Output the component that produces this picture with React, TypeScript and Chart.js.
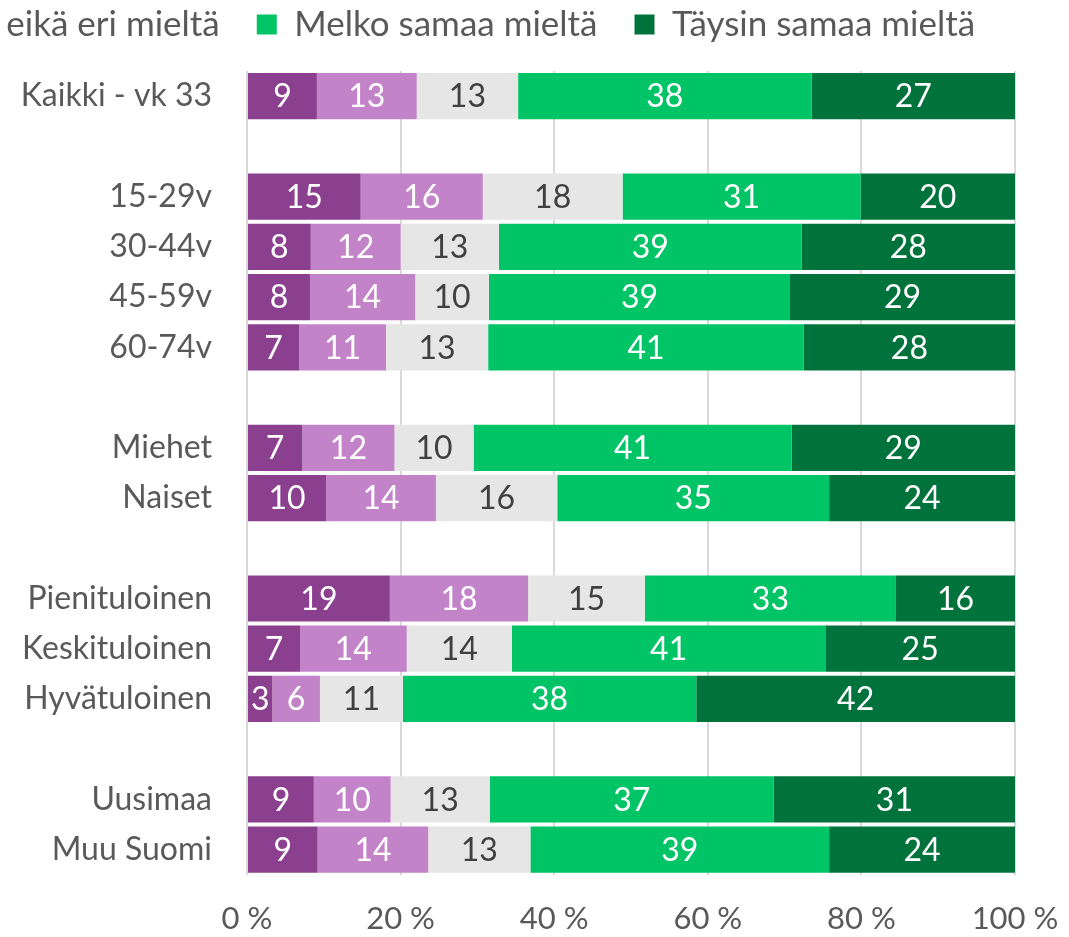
import { useEffect, useRef } from 'react';
import { Chart, registerables } from 'chart.js';

Chart.register(...registerables);

const categories = [
  'Kaikki - vk 33', '',
  '15-29v', '30-44v', '45-59v', '60-74v', '',
  'Miehet', 'Naiset', '',
  'Pienituloinen', 'Keskituloinen', 'Hyvätuloinen', '',
  'Uusimaa', 'Muu Suomi',
];

const seriesNames = [
  'Täysin eri mieltä',
  'Melko eri mieltä',
  'Ei samaa eikä eri mieltä',
  'Melko samaa mieltä',
  'Täysin samaa mieltä',
];

const taysinEri = [9.1, null, 14.8, 8.3, 8.2, 6.8, null, 7.2, 10.3, null, 18.6, 6.9, 3.3, null, 8.7, 9.2];
const melkoEri = [13.0, null, 15.9, 11.7, 13.7, 11.3, null, 12.0, 14.3, null, 18.0, 13.9, 6.2, null, 10.0, 14.4];
const eiSamaaEikaEri = [13.2, null, 18.2, 12.8, 9.6, 13.3, null, 10.3, 15.8, null, 15.2, 13.7, 10.8, null, 12.9, 13.3];
const melkoSamaa = [38.2, null, 31.0, 39.4, 39.2, 41.1, null, 41.4, 35.4, null, 32.7, 40.8, 38.2, null, 37.0, 38.9];
const taysinSamaa = [26.5, null, 20.1, 27.8, 29.3, 27.5, null, 29.1, 24.2, null, 15.5, 24.7, 41.5, null, 31.4, 24.2];

const xTicks = [0, 20, 40, 60, 80, 100];

const colors = ['#8B3F8F', '#C383C8', '#E6E6E6', '#00C466', '#00733C'];
const labelColors = ['#FFFFFF', '#FFFFFF', '#404040', '#FFFFFF', '#FFFFFF'];

const FONT = 'Lato';
const OFFSET_L = 856;
const OFFSET_T = 30;
const W = 1069 + OFFSET_L;
const H = 994;

export default function App() {
  const ref = useRef<HTMLCanvasElement>(null);

  useEffect(() => {
    if (!ref.current) return;
    const segLabels = {
      id: 'segLabels',
      afterDatasetsDraw(chart: any) {
        const ctx = chart.ctx;
        ctx.save();
        ctx.font = `32px ${FONT}`;
        ctx.textAlign = 'center';
        ctx.textBaseline = 'middle';
        chart.data.datasets.forEach((ds: any, di: number) => {
          const meta = chart.getDatasetMeta(di);
          meta.data.forEach((el: any, i: number) => {
            const v = ds.data[i];
            if (v == null) return;
            ctx.fillStyle = labelColors[di];
            ctx.fillText(String(Math.round(v)), (el.x + el.base) / 2, el.y + 1);
          });
        });
        ctx.restore();
      },
    };

    const allSeries = [taysinEri, melkoEri, eiSamaaEikaEri, melkoSamaa, taysinSamaa];
    const chart = new Chart(ref.current, {
      type: 'bar',
      data: {
        labels: categories,
        datasets: allSeries.map((d, i) => ({
          label: seriesNames[i],
          data: d,
          backgroundColor: colors[i],
          borderWidth: 0,
          barPercentage: 0.92,
          categoryPercentage: 1,
        })),
      },
      options: {
        indexAxis: 'y',
        responsive: false,
        animation: false,
        layout: { padding: { top: 0, right: 54, bottom: 0, left: 0 } },
        plugins: {
          legend: {
            position: 'top',
            align: 'center',
            labels: {
              boxWidth: 20,
              boxHeight: 20,
              padding: 37,
              color: '#595959',
              font: { family: FONT, size: 35 },
            },
          },
          title: {
            display: true,
            text: '',
            weight: 500,
            padding: { top: 0, bottom: 0 },
            font: { size: 19, lineHeight: 1 },
          },
          tooltip: { enabled: false },
        },
        scales: {
          x: {
            stacked: true,
            min: 0,
            max: 100,
            afterBuildTicks: (axis: any) => {
              axis.ticks = xTicks.map((v) => ({ value: v }));
            },
            afterFit: (axis: any) => {
              axis.paddingLeft = 0;
              axis.paddingRight = 0;
            },
            ticks: {
              callback: (v: any) => `${v} %`,
              color: '#595959',
              font: { family: FONT, size: 31 },
              padding: 26,
              maxRotation: 0,
            },
            grid: { color: '#D9D9D9', lineWidth: 2, drawTicks: false },
            border: { display: false },
          },
          y: {
            stacked: true,
            afterFit: (axis: any) => {
              axis.width = 247 + OFFSET_L;
              axis.paddingTop = 0;
              axis.paddingBottom = 0;
            },
            ticks: {
              color: '#595959',
              font: { family: FONT, size: 32 },
              padding: 35,
              autoSkip: false,
            },
            grid: { display: false, drawTicks: false },
            border: { display: false },
          },
        },
      },
      plugins: [segLabels],
    });
    return () => chart.destroy();
  }, []);

  return (
    <div style={{ position: 'absolute', left: 0, top: 0, width: 1069, height: 937, overflow: 'hidden', background: '#fff' }}>
      <canvas
        ref={ref}
        width={W}
        height={H}
        style={{ position: 'absolute', left: -OFFSET_L, top: -OFFSET_T, width: W, height: H }}
      />
    </div>
  );
}
